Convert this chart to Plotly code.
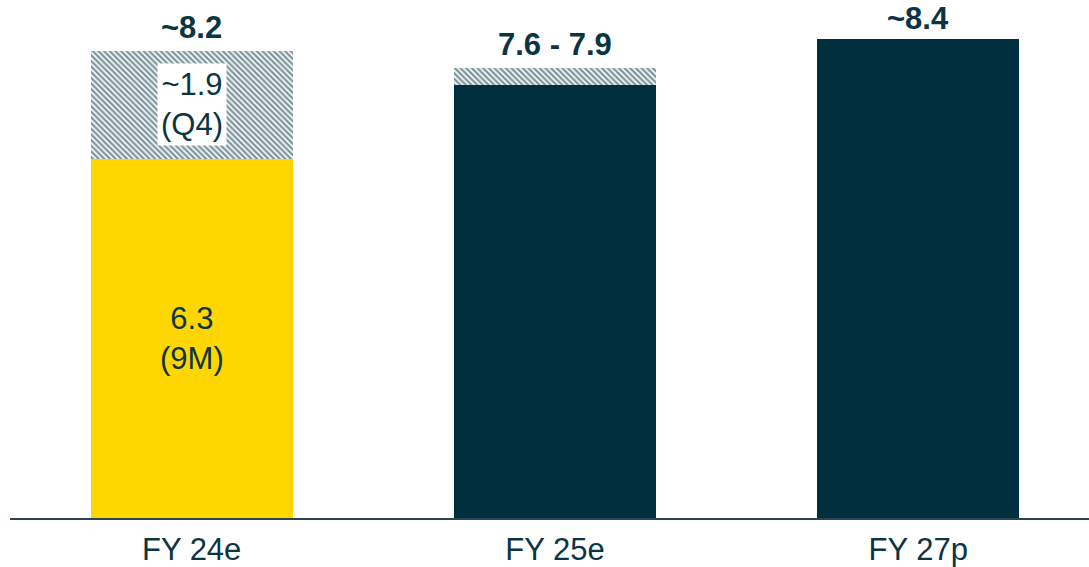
import plotly.graph_objects as go

categories = ["FY 24e", "FY 25e", "FY 27p"]
base_values = [6.3, 7.6, 8.4]
hatch_values = [1.9, 0.3, 0.0]
top_labels = ["~8.2", "7.6 - 7.9", "~8.4"]
top_values = [8.2, 7.9, 8.4]

DARK = "#002F3D"
YELLOW = "#FFD600"
TEXT = "#0B3543"
FONT = "Liberation Sans"
label_shifts = [4, 4, 1]

fig = go.Figure()
fig.add_trace(go.Bar(
    x=categories, y=base_values, width=0.556,
    marker=dict(color=[YELLOW, DARK, DARK], line=dict(width=0)),
    hoverinfo="skip",
))
fig.add_trace(go.Bar(
    x=categories, y=hatch_values, width=0.556,
    marker=dict(color="white", line=dict(width=0),
                pattern=dict(shape="\\", fgcolor=DARK, bgcolor="white",
                             size=4, solidity=0.6)),
    hoverinfo="skip",
))

annotations = []
for c, lab, v, s in zip(categories, top_labels, top_values, label_shifts):
    annotations.append(dict(x=c, y=v, text="<b>%s</b>" % lab, showarrow=False,
                            yanchor="bottom", yshift=s,
                            font=dict(size=31, color=TEXT, family=FONT)))
annotations.append(dict(x=categories[0], y=base_values[0] + hatch_values[0] / 2,
                        text="~1.9<br>(Q4)", showarrow=False,
                        bgcolor="white", borderpad=3,
                        font=dict(size=31, color=TEXT, family=FONT)))
annotations.append(dict(x=categories[0], y=base_values[0] / 2,
                        text="6.3<br>(9M)", showarrow=False,
                        font=dict(size=31, color=TEXT, family=FONT)))

fig.update_layout(
    width=1089, height=567,
    margin=dict(l=10, r=0, t=8, b=49),
    barmode="stack", showlegend=False,
    plot_bgcolor="white", paper_bgcolor="white",
    annotations=annotations,
    xaxis=dict(range=[-0.5, 2.47], showline=True, linecolor="#2B4653", linewidth=2,
               ticks="", showgrid=False,
               tickfont=dict(size=31, color=TEXT, family=FONT),
               ticklabelstandoff=3),
    yaxis=dict(range=[0, 8.947], visible=False, showgrid=False),
)
fig.write_html("out.html", config={"displayModeBar": False},
               post_script="document.body.style.margin='0';document.body.style.overflow='hidden';")
